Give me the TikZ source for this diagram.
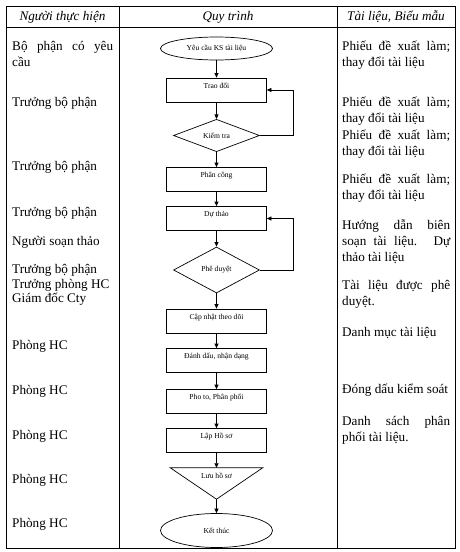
\documentclass[tikz,border=0pt]{standalone}
\usepackage{fontspec}
\setmainfont{Liberation Serif}
\usetikzlibrary{arrows.meta,positioning,shapes.geometric}
\hyphenpenalty=10000
\exhyphenpenalty=10000

\begin{document}
\begin{tikzpicture}[x=1pt,y=-1pt,>={Triangle[length=4.5pt,width=4pt]},
  every node/.style={inner sep=0pt},
  cell/.style={anchor=base west,font=\fontsize{13.2}{16}\selectfont},
  para/.style={cell,text width=#1,align=justify},
  head/.style={anchor=base,font=\fontsize{13.2}{16}\selectfont\itshape},
  small/.style={font=\fontsize{7.6}{9}\selectfont},
  term/.style={ellipse,draw,line width=.7pt,small,minimum width=112pt},
  box/.style={draw,line width=.7pt,small,minimum width=100pt,minimum height=24pt,text height=5pt,text depth=9pt},
  decide/.style={diamond,draw,line width=.7pt,small,minimum width=86pt},
  flow/.style={->,line width=.7pt}]
  \fill[white] (0,0) rectangle (460,552);
  \useasboundingbox (0,0) rectangle (460,552);
  % khung bang
  \draw[line width=.9pt] (6,6) rectangle (455,548);
  \draw[line width=.9pt] (6,27) -- (455,27);
  \draw[line width=.9pt] (119,6) -- (119,548) (337,6) -- (337,548);
  \node[head] (h1) at (62.5,20) {Người thực hiện};
  \node[head] (h2) at (228,20) {Quy trình};
  \node[head] (h3) at (396,20) {Tài liệu, Biểu mẫu};
  % cot nguoi thuc hien
  \node[para=101pt] (ng0) at (12,50) {Bộ phận có yêu\linebreak cầu};
  \foreach \y/\txt [count=\i] in {106/Trưởng bộ phận,170/Trưởng bộ phận,216/Trưởng bộ phận,
      245/Người soạn thảo,273/Trưởng bộ phận,288.5/Trưởng phòng HC,302/Giám đốc Cty,
      349/Phòng HC,394/Phòng HC,439/Phòng HC,483/Phòng HC,527/Phòng HC}
    \node[cell] (ng\i) at (12,\y) {\txt};
  % cot tai lieu
  \node[para=108pt] (tl1) at (342,50) {Phiếu đề xuất làm;\linebreak thay đổi tài liệu};
  \node[para=108pt] (tl2) at (342,106) {Phiếu đề xuất làm;\linebreak thay đổi tài liệu};
  \node[para=108pt] (tl3) at (342,139) {Phiếu đề xuất làm;\linebreak thay đổi tài liệu};
  \node[para=108pt] (tl4) at (342,183) {Phiếu đề xuất làm;\linebreak thay đổi tài liệu};
  \node[para=108pt] (tl5) at (342,229.5) {Hướng dẫn biên\linebreak soạn tài liệu. Dự\linebreak thảo tài liệu};
  \node[para=108pt] (tl6) at (342,289) {Tài liệu được phê\linebreak duyệt.};
  \node[para=108pt] (tl7) at (342,336) {Danh mục tài liệu};
  \node[para=108pt] (tl8) at (342,393) {Đóng dấu kiểm soát};
  \node[para=108pt] (tl9) at (342,425) {Danh sách phân\linebreak phối tài liệu.};
  % quy trinh
  \node[term,minimum height=23pt] (yeucau) at (216.5,48.5) {Yêu cầu KS tài liệu};
  \node[box] (traodoi) at (216.5,90) {Trao đổi};
  \node[decide,minimum height=31pt] (kiemtra) at (216.5,135.5) {Kiểm tra};
  \node[box] (phancong) at (216.5,179.5) {Phân công};
  \node[box] (duthao) at (216.5,218.5) {Dự thảo};
  \node[decide,minimum height=46pt] (pheduyet) at (216.5,270) {Phê duyệt};
  \node[box] (capnhat) at (216.5,321) {Cập nhật theo dõi};
  \node[box] (danhdau) at (216.5,360.5) {Đánh dấu, nhận dạng};
  \node[box] (photo) at (216.5,401.5) {Pho to, Phân phối};
  \node[box] (lap) at (216.5,440.5) {Lập Hồ sơ};
  \node[small,minimum width=92pt,minimum height=31pt,text height=5pt,text depth=16pt] (luu) at (216.5,483.5) {Lưu hồ sơ};
  \draw[line width=.7pt] (luu.north west) -- (luu.north east) -- (luu.south) -- cycle;
  \node[term,minimum height=34pt] (ket) at (216.5,530.5) {Kết thúc};
  \foreach \a/\b in {yeucau/traodoi,traodoi/kiemtra,kiemtra/phancong,phancong/duthao,
      duthao/pheduyet,pheduyet/capnhat,capnhat/danhdau,danhdau/photo,photo/lap,lap/luu,luu/ket}
    \draw[flow] (\a.south) -- (\b.north);
  \draw[flow] (kiemtra.east) -- ++(33.5,0) |- (traodoi.east);
  \draw[flow] (pheduyet.east) -- ++(33.5,0) |- (duthao.east);
\end{tikzpicture}
\end{document}
